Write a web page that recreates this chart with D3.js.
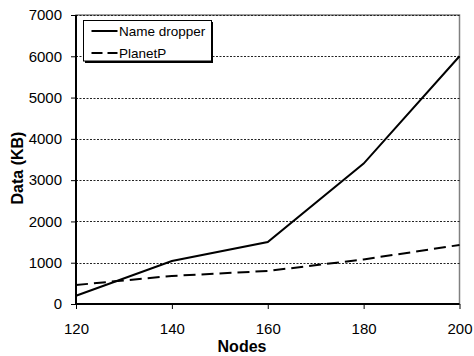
<!DOCTYPE html>
<html>
<head>
<meta charset="utf-8">
<script src="https://cdn.jsdelivr.net/npm/d3@7"></script>
<style>
  body { margin: 0; background: #fff; }
  text { font-family: "Liberation Sans", Arial, sans-serif; }
</style>
</head>
<body>
<svg id="chart" width="474" height="356"></svg>
<script>
var nodes = [120, 140, 160, 180, 200];
var nameDropper = [200, 1040, 1500, 3400, 6000];
var planetP = [460, 680, 800, 1080, 1430];
var yTicks = [0, 1000, 2000, 3000, 4000, 5000, 6000, 7000];
var xTicks = [120, 140, 160, 180, 200];

var svg = d3.select("#chart"),
	pLeft = 76, pRight = 459.5, pTop = 15, pBottom = 304;

var x = d3.scaleLinear().domain([120, 200]).range([pLeft, pRight]);
var y = d3.scaleLinear().domain([0, 7000]).range([pBottom, pTop]);

// plot border
svg.append("rect").attr("x", pLeft).attr("y", pTop).attr("width", pRight - pLeft).attr("height", pBottom - pTop)
	.attr("fill", "none").attr("stroke", "#808080").attr("stroke-width", 1.5);

// gridlines
svg.append("g").selectAll("line").data(yTicks.filter(function(d){ return d > 0; })).enter().append("line")
	.attr("x1", pLeft).attr("x2", pRight)
	.attr("y1", function(d){ return Math.round(y(d)) + 0.5; })
	.attr("y2", function(d){ return Math.round(y(d)) + 0.5; })
	.attr("stroke", "#222").attr("stroke-width", 1).attr("stroke-dasharray", "2,1.5");

// y axis
var gy = svg.append("g").attr("transform", "translate(" + pLeft + ",0)")
	.call(d3.axisLeft(y).tickValues(yTicks).tickSize(5).tickPadding(9).tickFormat(d3.format("d")));
gy.select(".domain").attr("stroke-width", 2).attr("d", "M0," + pTop + "V" + pBottom);
gy.selectAll(".tick line").attr("stroke-width", 1);
gy.selectAll(".tick text").attr("font-size", 15).attr("fill", "#000").style("font-family", "Liberation Sans, Arial, sans-serif");

// x axis
var gx = svg.append("g").attr("transform", "translate(0," + pBottom + ")")
	.call(d3.axisBottom(x).tickValues(xTicks).tickSize(5).tickPadding(14));
gx.select(".domain").attr("stroke-width", 2).attr("d", "M" + pLeft + ",0H" + pRight);
gx.selectAll(".tick line").attr("stroke-width", 1);
gx.selectAll(".tick text").attr("font-size", 15).attr("fill", "#000").style("font-family", "Liberation Sans, Arial, sans-serif");

// series
var line = d3.line().x(function(d, i){ return x(nodes[i]); }).y(function(d){ return y(d); });
svg.append("path").datum(nameDropper).attr("d", line).attr("fill", "none")
	.attr("stroke", "#000").attr("stroke-width", 2);
svg.append("path").datum(planetP).attr("d", line).attr("fill", "none")
	.attr("stroke", "#000").attr("stroke-width", 2).attr("stroke-dasharray", "12,6");

// axis titles
svg.append("text").attr("x", 242).attr("y", 352).attr("text-anchor", "middle")
	.attr("font-size", 16).attr("font-weight", "bold").text("Nodes");
svg.append("text").attr("transform", "translate(23,168) rotate(-90)")
	.attr("text-anchor", "middle").attr("font-size", 16).attr("font-weight", "bold").text("Data (KB)");

// legend
var lg = svg.append("g");
lg.append("rect").attr("x", 85).attr("y", 22).attr("width", 128).attr("height", 41).attr("fill", "#000");
lg.append("rect").attr("x", 83.5).attr("y", 20.5).attr("width", 128).attr("height", 40.5)
	.attr("fill", "#fff").attr("stroke", "#000").attr("stroke-width", 1);
var items = [{name: "Name dropper", dash: null}, {name: "PlanetP", dash: "11,5"}];
items.forEach(function(it, i) {
	var yy = 31 + i * 22;
	lg.append("line").attr("x1", 91.5).attr("x2", 117.5).attr("y1", yy).attr("y2", yy)
		.attr("stroke", "#000").attr("stroke-width", 2).attr("stroke-dasharray", it.dash);
	lg.append("text").attr("x", 119).attr("y", yy + 5).attr("font-size", 13.5).text(it.name);
});
</script>
</body>
</html>
